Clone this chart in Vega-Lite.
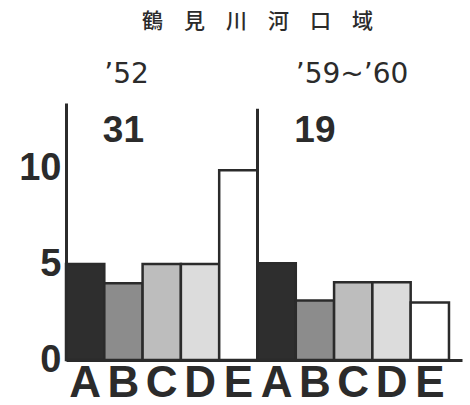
{
  "$schema": "https://vega.github.io/schema/vega-lite/v6.json",
  "autosize": {"type": "none"},
  "padding": {"left": 66, "top": 103, "right": 8, "bottom": 45},
  "width": 396,
  "height": 257,
  "background": "white",
  "config": {"view": {"stroke": null}},
  "datasets": {
    "bars": [
      {"k": "1A", "cls": "A", "v": 5},
      {"k": "1B", "cls": "B", "v": 4},
      {"k": "1C", "cls": "C", "v": 5},
      {"k": "1D", "cls": "D", "v": 5},
      {"k": "1E", "cls": "E", "v": 9.9},
      {"k": "2A", "cls": "A", "v": 5.05},
      {"k": "2B", "cls": "B", "v": 3.1},
      {"k": "2C", "cls": "C", "v": 4.05},
      {"k": "2D", "cls": "D", "v": 4.05},
      {"k": "2E", "cls": "E", "v": 3}
    ],
    "axis2": [{"k": "2A", "y0": 0, "y1": 13.1}],
    "counts": [
      {"k": "1B", "y": 11.94, "t": "31"},
      {"k": "2B", "y": 11.94, "t": "19"}
    ],
    "years": [
      {"k": "1B", "y": 14.84, "t": "’52"},
      {"k": "2B", "y": 14.84, "t": "’59~’60"}
    ],
    "title": [{"k": "2A", "y": 17.6, "t": "鶴　見　川　河　口　域"}]
  },
  "encoding": {
    "x": {
      "field": "k",
      "type": "nominal",
      "sort": ["1A", "1B", "1C", "1D", "1E", "2A", "2B", "2C", "2D", "2E"],
      "scale": {
        "domain": ["1A", "1B", "1C", "1D", "1E", "2A", "2B", "2C", "2D", "2E"],
        "paddingInner": 0,
        "paddingOuter": 0.17,
        "align": 0
      },
      "axis": {
        "title": null,
        "labelAngle": 0,
        "labelExpr": "substring(datum.label, 1)",
        "labelFont": "Liberation Sans",
        "labelFontWeight": "bold",
        "labelFontSize": 44,
        "labelColor": "#2b2b2b",
        "labelPadding": 1,
        "ticks": false,
        "domainColor": "#2b2b2b",
        "domainWidth": 3
      }
    }
  },
  "layer": [
    {
      "data": {"name": "bars"},
      "mark": {"type": "bar", "stroke": "#2b2b2b", "strokeWidth": 2.5},
      "encoding": {
        "y": {
          "field": "v",
          "type": "quantitative",
          "scale": {"domain": [0, 13.4], "nice": false, "zero": true},
          "axis": {
            "title": null,
            "values": [0, 5, 10],
            "grid": false,
            "ticks": false,
            "labelFont": "Liberation Sans",
            "labelFontWeight": "bold",
            "labelFontSize": 38,
            "labelColor": "#2b2b2b",
            "labelPadding": 5,
            "labelBaseline": "middle",
            "labelFlush": false,
            "labelDy": 5,
            "domainColor": "#2b2b2b",
            "domainWidth": 3
          }
        },
        "color": {
          "field": "cls",
          "type": "nominal",
          "legend": null,
          "scale": {
            "domain": ["A", "B", "C", "D", "E"],
            "range": ["#2e2e2e", "#8c8c8c", "#bdbdbd", "#dcdcdc", "#ffffff"]
          }
        }
      }
    },
    {
      "data": {"name": "axis2"},
      "mark": {"type": "rule", "stroke": "#2b2b2b", "strokeWidth": 3},
      "encoding": {
        "x": {"field": "k", "type": "nominal", "bandPosition": 0},
        "y": {"field": "y0", "type": "quantitative"},
        "y2": {"field": "y1"}
      }
    },
    {
      "data": {"name": "counts"},
      "mark": {"type": "text", "font": "Liberation Sans", "fontWeight": "bold", "fontSize": 37, "color": "#2b2b2b", "baseline": "middle"},
      "encoding": {
        "x": {"field": "k", "type": "nominal"},
        "y": {"field": "y", "type": "quantitative"},
        "text": {"field": "t"}
      }
    },
    {
      "data": {"name": "years"},
      "mark": {"type": "text", "font": "DejaVu Sans", "fontSize": 28, "color": "#2b2b2b", "align": "left", "baseline": "middle"},
      "encoding": {
        "x": {"field": "k", "type": "nominal", "bandPosition": 0},
        "y": {"field": "y", "type": "quantitative"},
        "text": {"field": "t"}
      }
    },
    {
      "data": {"name": "title"},
      "mark": {"type": "text", "font": "Noto Sans CJK JP", "fontSize": 21, "fontWeight": 500, "color": "#2b2b2b", "align": "center", "baseline": "middle"},
      "encoding": {
        "x": {"field": "k", "type": "nominal", "bandPosition": 0},
        "y": {"field": "y", "type": "quantitative"},
        "text": {"field": "t"}
      }
    }
  ]
}
